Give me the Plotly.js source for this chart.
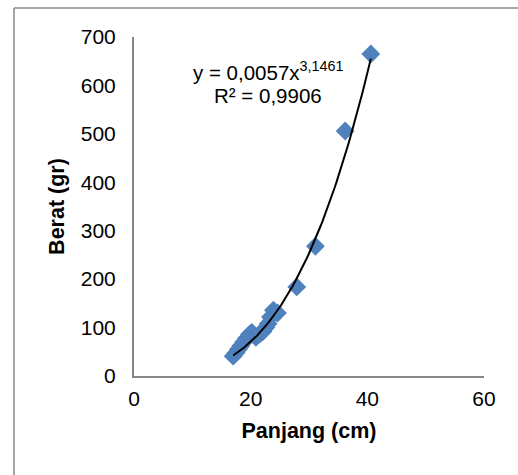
<!DOCTYPE html>
<html>
<head>
<meta charset="utf-8">
<script src="https://cdn.plot.ly/plotly-3.0.1.min.js"></script>
<style>
  html, body { margin: 0; padding: 0; background: #ffffff; }
  #chart { width: 518px; height: 475px; }
</style>
</head>
<body>
<div id="chart"></div>
<script>
const panjang = [17.0, 17.5, 17.9, 18.3, 18.8, 19.3, 19.8, 20.2, 20.9, 21.6, 22.1, 22.6, 23.0, 23.4, 23.9, 24.6, 27.9, 31.1, 36.2, 40.6];
const berat   = [41,   48,   55,   62,   70,   78,   86,   90,   80,   87,   92,   100,  108,  122,  136,  130,  184,  268,  506,  665];

// Power trendline shown on the chart: y = a * x^b
const trendA = 0.0057;
const trendB = 3.1461;
const trendLabel1 = 'y = 0,0057x<sup>3,1461</sup>';
const trendLabel2 = 'R² = 0,9906';

const xTicks = [0, 20, 40, 60];
const yTicks = [0, 100, 200, 300, 400, 500, 600, 700];
const xTitle = 'Panjang (cm)';
const yTitle = 'Berat (gr)';

// Trendline curve evaluated across the observed x-range
const xMin = Math.min(...panjang), xMax = Math.max(...panjang);
const trendX = [], trendY = [];
const nSteps = 80;
for (let i = 0; i <= nSteps; i++) {
  const x = xMin + (xMax - xMin) * i / nSteps;
  trendX.push(x);
  trendY.push(trendA * Math.pow(x, trendB));
}

const font = 'Liberation Sans, Arial, sans-serif';

const traces = [
  {
    x: panjang, y: berat, type: 'scatter', mode: 'markers',
    marker: { symbol: 'diamond', size: 14.5, color: '#4F81BD', line: { width: 0 } },
    hoverinfo: 'x+y'
  },
  {
    x: trendX, y: trendY, type: 'scatter', mode: 'lines',
    line: { color: '#000000', width: 2 },
    hoverinfo: 'skip'
  }
];

const W = 518, H = 475;
const mL = 134, mR = 34, mT = 37, mB = 99;
const pw = W - mL - mR, ph = H - mT - mB;
// frame (chart area border) in paper coords
const fx = (14 - mL) / pw, fxr = (W + 5 - mL) / pw;
const fy = (ph + mT - 8) / ph, fyb = (mT + ph - (H + 5)) / ph;

const layout = {
  width: W, height: H,
  margin: { l: mL, r: mR, t: mT, b: mB, pad: 0 },
  paper_bgcolor: '#ffffff', plot_bgcolor: '#ffffff',
  showlegend: false,
  font: { family: font, size: 21, color: '#000000' },
  xaxis: {
    range: [0, 60], tickvals: xTicks, ticktext: xTicks.map(String),
    showgrid: false, zeroline: false, showline: true,
    linecolor: '#868686', linewidth: 2, ticks: '',
    ticklabelstandoff: 3,
    tickfont: { family: font, size: 21, color: '#000000' },
    title: { text: xTitle, font: { family: font, size: 21.5, color: '#000000', weight: 'bold' }, standoff: 14 }
  },
  yaxis: {
    range: [0, 700], tickvals: yTicks, ticktext: yTicks.map(String),
    showgrid: false, zeroline: false, showline: true,
    linecolor: '#868686', linewidth: 2, ticks: '',
    ticklabelstandoff: 12,
    tickfont: { family: font, size: 21, color: '#000000' },
    title: { text: yTitle, font: { family: font, size: 21.5, color: '#000000', weight: 'bold' }, standoff: 10 }
  },
  annotations: [
    { x: 23.0, y: 630, xref: 'x', yref: 'y', text: trendLabel1, showarrow: false,
      font: { family: font, size: 20.5, color: '#000000' }, xanchor: 'center', yanchor: 'middle' },
    { x: 23.0, y: 580, xref: 'x', yref: 'y', text: trendLabel2, showarrow: false,
      font: { family: font, size: 20.5, color: '#000000' }, xanchor: 'center', yanchor: 'middle' }
  ],
  shapes: [
    { type: 'line', xref: 'paper', yref: 'paper', x0: fx, x1: fxr, y0: fy, y1: fy,
      line: { color: '#898989', width: 1.5 } },
    { type: 'line', xref: 'paper', yref: 'paper', x0: fx, x1: fx, y0: fy, y1: fyb,
      line: { color: '#898989', width: 1.5 } }
  ]
};

Plotly.newPlot('chart', traces, layout, { displayModeBar: false, staticPlot: true });
</script>
</body>
</html>
